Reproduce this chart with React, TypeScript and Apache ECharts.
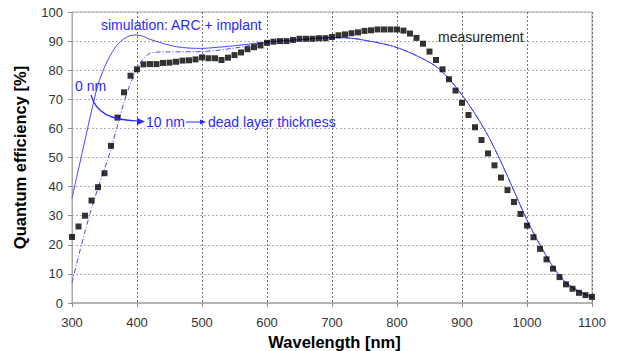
import React, { useEffect, useRef } from "react";
import * as echarts from "echarts";

const measWavelengths = [
  300, 310, 320, 330, 340, 350, 360, 370, 380, 390,
  400, 410, 420, 430, 440, 450, 460, 470, 480, 490,
  500, 510, 520, 530, 540, 550, 560, 570, 580, 590,
  600, 610, 620, 630, 640, 650, 660, 670, 680, 690,
  700, 710, 720, 730, 740, 750, 760, 770, 780, 790,
  800, 810, 820, 830, 840, 850, 860, 870, 880, 890,
  900, 910, 920, 930, 940, 950, 960, 970, 980, 990,
  1000, 1010, 1020, 1030, 1040, 1050, 1060, 1070, 1080, 1090, 1100,
];
const measValues = [
  22.7, 26.3, 30, 35.2, 39.8, 44.6, 54, 63.7, 72.4, 78.1,
  80.3, 82, 82.1, 82.1, 82.5, 82.6, 82.9, 83.3, 83.4, 83.7,
  84.4, 84.1, 84.1, 83.5, 84.3, 85.2, 86.1, 87.2, 87.9, 88.5,
  89.4, 89.8, 90, 90, 90.4, 90.8, 90.8, 90.8, 91, 91,
  91.4, 92, 92.3, 92.7, 93, 93.5, 93.7, 94, 94, 94,
  94, 93.6, 92.6, 91.1, 89.1, 86.4, 83.5, 80.3, 76.9, 73,
  68.8, 64.6, 60.4, 56, 51.4, 47.3, 43.1, 38.8, 34.7, 30.6,
  26.6, 22.6, 18.6, 15, 11.8, 8.9, 6.4, 4.9, 3.5, 2.7, 2.1,
];

const sim0Wavelengths = [
  300, 310, 320, 330, 340, 350, 360, 370, 380, 390, 400, 410, 420, 440, 460,
  480, 500, 520, 550, 580, 600, 650, 700, 730, 750, 780, 800, 830, 860, 880,
  900, 920, 940, 960, 980, 1000, 1020, 1040, 1060, 1080, 1100,
];
const sim0Values = [
  36, 46, 56, 66, 75, 81, 85.5, 88.8, 90.8, 91.9, 92.1, 91.6, 90.6, 89.2, 88.1,
  87.6, 87.5, 87.8, 88.4, 89.2, 89.7, 90.5, 91.2, 91, 90.3, 89, 87.8, 85, 81.3, 77,
  71.5, 65, 57.5, 48.5, 38.5, 28.5, 20, 12.5, 7, 4, 2,
];

const sim10Wavelengths = [
  300, 310, 320, 330, 340, 350, 360, 370, 380, 390, 400, 410, 420, 430, 450,
  500, 550, 600,
];
const sim10Values = [
  7, 16, 24.5, 32.5, 39.5, 46, 53, 61, 69, 75.5, 80.5, 84, 85.8, 86.2, 86.3,
  86.4, 87.6, 89.5,
];

const xTicks = [300, 400, 500, 600, 700, 800, 900, 1000, 1100];
const yTicks = [0, 10, 20, 30, 40, 50, 60, 70, 80, 90, 100];

const FONT = "'Liberation Sans', Arial, sans-serif";
const BLUE = "#4646ff";
const TEXT_BLUE = "#2a2aff";

export default function App() {
  const ref = useRef<HTMLDivElement>(null);

  useEffect(() => {
    if (!ref.current) return;
    const chart = echarts.init(ref.current, null, { renderer: "svg" });

    const meas = measWavelengths.map((w, i) => [w, measValues[i]]);
    const s0 = sim0Wavelengths.map((w, i) => [w, sim0Values[i]]);
    // 10 nm curve: own points up to 600 nm, then follows the 0 nm curve
    const s10 = sim10Wavelengths
      .map((w, i) => [w, sim10Values[i]])
      .concat(s0.filter((p) => p[0] > 600));

    const txt = (text: string, x: number, y: number, fill: string) => ({
      type: "text",
      x,
      y,
      z: 10,
      style: {
        text,
        fill,
        font: `14px ${FONT}`,
        verticalAlign: "middle",
        textVerticalAlign: "middle",
      },
    });

    chart.setOption({
      animation: false,
      backgroundColor: "#fff",
      textStyle: { fontFamily: FONT },
      grid: {
        left: 72,
        right: 26,
        top: 12,
        bottom: 48,
        outerBoundsMode: "none",
        containLabel: false,
        show: true,
        borderColor: "#a8a8a8",
        borderWidth: 1,
        backgroundColor: "transparent",
      },
      xAxis: {
        type: "value",
        min: xTicks[0],
        max: xTicks[xTicks.length - 1],
        interval: 100,
        name: "Wavelength [nm]",
        nameLocation: "middle",
        nameGap: 25,
        nameTextStyle: {
          fontFamily: FONT,
          fontWeight: "bold",
          fontSize: 16.5,
          color: "#000",
          padding: [0, 0, 0, 5],
        },
        axisLine: { show: true, lineStyle: { color: "#b4b4b4", width: 2 } },
        axisTick: { show: true, length: 4, lineStyle: { color: "#909090" } },
        axisLabel: {
          fontFamily: FONT,
          fontSize: 13,
          color: "#333",
          margin: 13,
          formatter: (v: number) => String(v),
        },
        splitLine: {
          show: true,
          lineStyle: { color: "#707070", width: 1, type: [2, 2] },
        },
      },
      yAxis: {
        type: "value",
        min: yTicks[0],
        max: yTicks[yTicks.length - 1],
        interval: 10,
        name: "Quantum efficiency [%]",
        nameLocation: "middle",
        nameRotate: 90,
        nameGap: 44,
        nameTextStyle: {
          fontFamily: FONT,
          fontWeight: "bold",
          fontSize: 16.5,
          color: "#000",
        },
        axisLine: { show: true, lineStyle: { color: "#a8a8a8", width: 1 } },
        axisTick: { show: true, length: 4, lineStyle: { color: "#909090" } },
        axisLabel: {
          fontFamily: FONT,
          fontSize: 13,
          color: "#333",
          margin: 9,
          formatter: (v: number) => String(v),
        },
        splitLine: {
          show: true,
          lineStyle: { color: "#b0b0b0", width: 1, type: [2, 2] },
        },
      },
      series: [
        {
          name: "0 nm",
          type: "line",
          data: s0,
          smooth: 0.3,
          showSymbol: false,
          symbol: "none",
          lineStyle: { color: BLUE, width: 1 },
          z: 2,
        },
        {
          name: "10 nm",
          type: "line",
          data: s10,
          smooth: 0.3,
          showSymbol: false,
          symbol: "none",
          lineStyle: { color: BLUE, width: 1, type: [5, 2, 1, 2] },
          z: 2,
        },
        {
          name: "measurement",
          type: "scatter",
          data: meas,
          symbol: "rect",
          symbolSize: 6,
          itemStyle: { color: "#000" },
          z: 3,
        },
      ],
      graphic: [
        txt("simulation: ARC + implant", 101, 25, TEXT_BLUE),
        txt("measurement", 438, 37, "#222"),
        txt("0 nm", 75, 86, TEXT_BLUE),
        {
          type: "bezierCurve",
          shape: { x1: 91, y1: 95, cpx1: 96, cpy1: 113, cpx2: 110, cpy2: 120, x2: 138, y2: 121 },
          style: { stroke: TEXT_BLUE, lineWidth: 1.2, fill: null },
          z: 10,
        },
        {
          type: "polygon",
          shape: { points: [[145, 121.5], [137, 118], [137, 125]] },
          style: { fill: TEXT_BLUE },
          z: 10,
        },
        txt("10 nm", 146, 122, TEXT_BLUE),
        {
          type: "line",
          shape: { x1: 186, y1: 122, x2: 201, y2: 122 },
          style: { stroke: TEXT_BLUE, lineWidth: 1 },
          z: 10,
        },
        {
          type: "polygon",
          shape: { points: [[206, 122], [200, 119.5], [200, 124.5]] },
          style: { fill: TEXT_BLUE },
          z: 10,
        },
        txt("dead layer thickness", 208, 122, TEXT_BLUE),
      ],
    });

    return () => chart.dispose();
  }, []);

  return (
    <div
      ref={ref}
      style={{ position: "fixed", left: 0, top: 0, width: 618, height: 351, background: "#fff" }}
    />
  );
}
